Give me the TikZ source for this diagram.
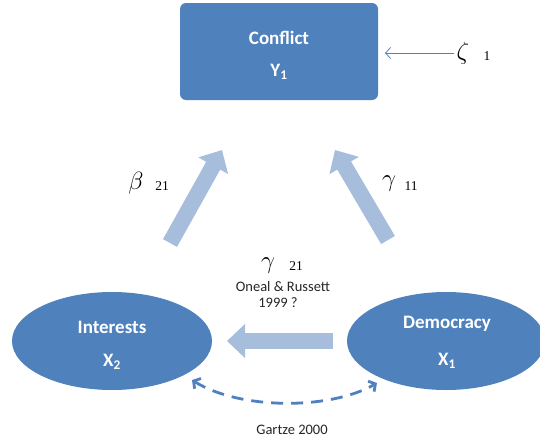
\documentclass[tikz,border=0pt]{standalone}
\usepackage{fontspec}
\setmainfont{Carlito}
\newfontfamily\tms{Liberation Serif}
\usetikzlibrary{arrows.meta,shapes.geometric}
\definecolor{dblue}{HTML}{4F81BD}
\definecolor{pblue}{HTML}{A7BDDC}
\tikzset{
  every node/.style={inner sep=0pt, outer sep=0pt},
  boxnode/.style={draw=none, fill=dblue, rounded corners=6pt, minimum width=198pt, minimum height=97pt},
  ellnode/.style={ellipse, draw=none, fill=dblue, minimum width=200pt, minimum height=98pt},
  whitetxt/.style={text=white, font=\fontsize{19}{22}\selectfont\bfseries},
  greek/.style={font=\fontsize{26}{28}\selectfont},
  sub/.style={font=\tms\fontsize{13.5}{15}\selectfont},
  smalltxt/.style={font=\fontsize{14.5}{16}\selectfont, text=black!85},
  fatarrow/.style={draw=pblue, line width=16pt, -{Triangle[width=33pt,length=18pt]}},
  thinarrow/.style={draw=dblue, line width=0.8pt, -{Straight Barb[length=5pt,width=11pt]}},
  dasharrow/.style={draw=dblue, line width=2.8pt, dash pattern=on 12pt off 8pt,
    {Straight Barb[length=5pt,width=12pt]}-{Straight Barb[length=5pt,width=12pt]}}
}
\begin{document}
\begin{tikzpicture}[x=1pt,y=-1pt]
\useasboundingbox (0,0) rectangle (540,442);
% nodes
\node[boxnode] (conf) at (279,51.5) {};
\node[whitetxt] (confa) at (279,38) {Conflict};
\node[whitetxt] (confb) at (279,72) {Y\textsubscript{1}};
\node[ellnode] (int) at (112,341) {};
\node[whitetxt] (inta) at (112,327) {Interests};
\node[whitetxt] (intb) at (112,362) {X\textsubscript{2}};
\node[ellnode, minimum width=198pt] (dem) at (446,341) {};
\node[whitetxt] (dema) at (447,324) {Democracy};
\node[whitetxt] (demb) at (447,361) {X\textsubscript{1}};
% zeta
\node[greek] (zeta) at (463,53) {$\zeta$};
\node[sub] (zetas) at (487,56) {1};
\draw[thinarrow] ([xshift=-9pt]zeta.center) -- ([xshift=7pt]conf.east |- zeta.center);
% thick arrows
\coordinate (lt) at (170,243);
\coordinate (lh) at (222,150);
\coordinate (rt) at (388,240);
\coordinate (rh) at (335,150);
\coordinate (mt) at (333,341);
\coordinate (mh) at (227,341);
\draw[fatarrow] (lt) -- (lh);
\draw[fatarrow] (rt) -- (rh);
\draw[fatarrow] (mt) -- (mh);
% labels
\node[greek] (beta) at (136,183) {$\beta$};
\node[sub] (betas) at (162,186) {21};
\node[greek] (g11) at (389,184) {$\gamma$};
\node[sub] (g11s) at (411,186) {11};
\node[greek] (g21) at (268,266) {$\gamma$};
\node[sub] (g21s) at (296,266) {21};
\node[smalltxt] (oneal) at (283,287) {Oneal \& Russett};
\node[smalltxt] (y1999) at (278,303) {1999 ?};
% dashed
\coordinate (dl) at (192,380);
\coordinate (dr) at (377,383);
\draw[dasharrow] (dl) .. controls (240,410) and (330,410) .. (dr);
\node[smalltxt] (gartze) at (292,430) {Gartze 2000};
\end{tikzpicture}
\end{document}
